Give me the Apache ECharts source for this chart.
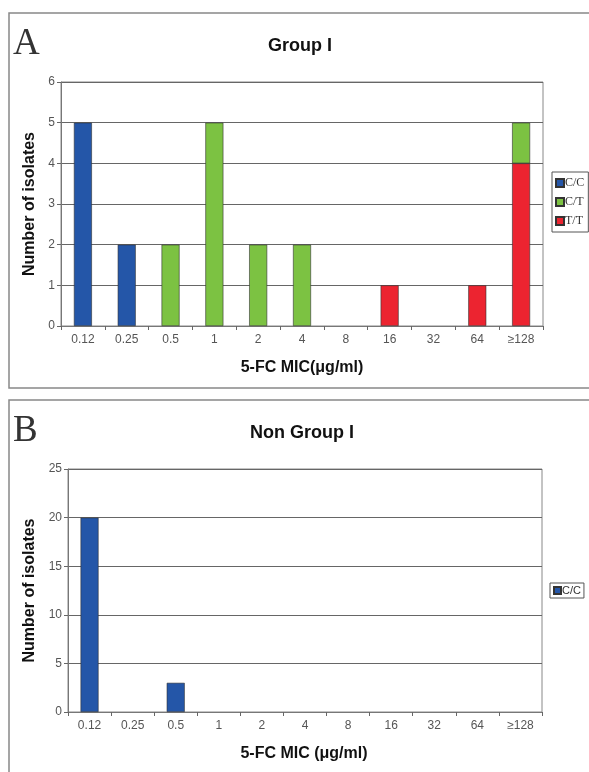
<!DOCTYPE html>
<html><head><meta charset="utf-8">
<script src="https://cdn.jsdelivr.net/npm/echarts@6/dist/echarts.min.js"></script>
<style>html,body{margin:0;padding:0;background:#fff}#c{width:589px;height:772px}</style>
</head><body><div id="c"></div>
<script>
var categories = ['0.12','0.25','0.5','1','2','4','8','16','32','64','≥128'];
var groupI_CC = [5,2,0,0,0,0,0,0,0,0,0];
var groupI_CT = [0,0,2,5,2,2,0,0,0,0,1];
var groupI_TT = [0,0,0,0,0,0,0,1,0,1,4];
var nonGroupI_CC = [20,0,3,0,0,0,0,0,0,0,0];
var yTicksA = {min:0,max:6,interval:1};
var yTicksB = {min:0,max:25,interval:5};

var BLUE='#2456a8', GREEN='#7cc242', RED='#ec2430';
var chart = echarts.init(document.getElementById('c'));
function xAxis(gi){return {type:'category',gridIndex:gi,data:categories,boundaryGap:true,
  axisLine:{lineStyle:{color:'#777',width:1}},
  axisTick:{show:true,inside:false,length:4,lineStyle:{color:'#666'}},
  axisLabel:{color:'#555',fontSize:12,fontFamily:'Liberation Sans',margin:8}};}
function yAxis(gi,t,gap){return {type:'value',gridIndex:gi,min:t.min,max:t.max,interval:t.interval,
  axisLine:{show:true,lineStyle:{color:'#777'}},
  axisTick:{show:true,length:4,lineStyle:{color:'#666'}},
  axisLabel:{color:'#555',fontSize:12,fontFamily:'Liberation Sans',margin:6},
  splitLine:{lineStyle:{color:'#666',width:1.2}},
  name:'Number of isolates',nameLocation:'middle',nameGap:gap,
  nameTextStyle:{fontWeight:'bold',fontSize:16,color:'#111',fontFamily:'Liberation Sans'}};}
function bar(name,data,color,gi,stack){return {type:'bar',barWidth:18,name:name,data:data.map(function(v){return v===0?'-':v;}),
  xAxisIndex:gi,yAxisIndex:gi,stack:stack,itemStyle:{color:color,borderColor:'#333',borderWidth:0.6}};}
chart.setOption({
  animation:false,
  graphic:[
    {type:'rect',shape:{x:9,y:13,width:600,height:375},style:{fill:'none',stroke:'#888',lineWidth:1.5}},
    {type:'rect',shape:{x:9,y:400,width:600,height:400},style:{fill:'none',stroke:'#888',lineWidth:1.5}},
    {type:'rect',shape:{x:61,y:82,width:482,height:244},style:{fill:'none',stroke:'#888',lineWidth:1}},
    {type:'rect',shape:{x:68,y:469,width:474,height:243},style:{fill:'none',stroke:'#888',lineWidth:1}},
    {type:'text',x:13,y:44,style:{text:'A',font:'37px "Liberation Serif"',fill:'#333',textVerticalAlign:'middle'}},
    {type:'text',x:13,y:431,style:{text:'B',font:'37px "Liberation Serif"',fill:'#333',textVerticalAlign:'middle'}},
    {type:'text',x:300,y:46,style:{text:'Group I',font:'bold 18px "Liberation Sans"',fill:'#111',textAlign:'center',textVerticalAlign:'middle'}},
    {type:'text',x:302,y:433,style:{text:'Non Group I',font:'bold 18px "Liberation Sans"',fill:'#111',textAlign:'center',textVerticalAlign:'middle'}},
    {type:'text',x:302,y:368,style:{text:'5-FC MIC(μg/ml)',font:'bold 16px "Liberation Sans"',fill:'#111',textAlign:'center',textVerticalAlign:'middle'}},
    {type:'text',x:304,y:754,style:{text:'5-FC MIC (μg/ml)',font:'bold 16px "Liberation Sans"',fill:'#111',textAlign:'center',textVerticalAlign:'middle'}}
  ],
  legend:[
    {orient:'vertical',left:552,top:172,data:['C/C','C/T','T/T'],itemWidth:8,itemHeight:8,itemGap:7,padding:[5,4,5,3],
     borderColor:'#555',borderWidth:1,icon:'rect',
     textStyle:{fontFamily:'Liberation Serif',fontSize:12,color:'#333',padding:[0,0,0,-4]}},
    {orient:'vertical',left:550,top:583,data:['C/C'],itemWidth:7,itemHeight:7,padding:[2,3,2,3],
     borderColor:'#555',borderWidth:1,icon:'rect',
     textStyle:{fontFamily:'Liberation Sans',fontSize:11,color:'#333',padding:[0,0,0,-4]}}
  ],
  grid:[
    {left:61,top:82,width:482,height:244},
    {left:68,top:469,width:474,height:243}
  ],
  xAxis:[xAxis(0),xAxis(1)],
  yAxis:[yAxis(0,yTicksA,22),yAxis(1,yTicksB,29)],
  series:[
    bar('C/C',groupI_CC,BLUE,0,'a'),
    bar('T/T',groupI_TT,RED,0,'a'),
    bar('C/T',groupI_CT,GREEN,0,'a'),
    bar('C/C',nonGroupI_CC,BLUE,1,'b')
  ]
});
</script></body></html>
